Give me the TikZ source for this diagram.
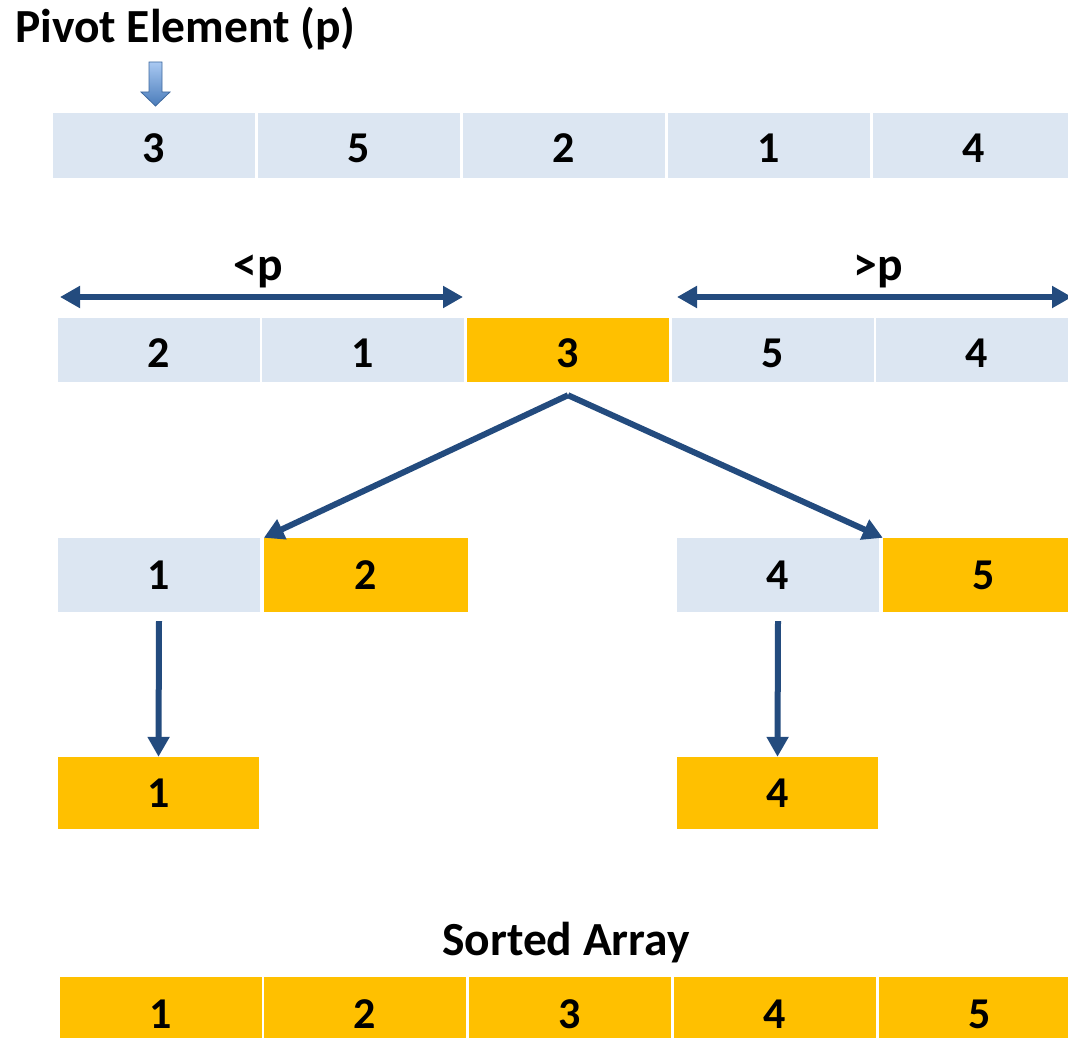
\documentclass[tikz,border=0pt]{standalone}
\usepackage{fontspec}
\setmainfont{Carlito}
\usetikzlibrary{arrows.meta}
\definecolor{cellblue}{HTML}{DCE6F2}
\definecolor{cellgold}{HTML}{FFC000}
\definecolor{arrowblue}{HTML}{234B7E}
\definecolor{pivtop}{HTML}{A9C9F2}
\definecolor{pivbot}{HTML}{4A7CBA}
\begin{document}
\begin{tikzpicture}[x=1pt,y=-1pt,
  cell/.style={rectangle,inner sep=0pt,minimum width=202pt,
    font=\fontsize{44}{48}\selectfont\bfseries},
  bluecell/.style={cell,fill=cellblue},
  goldcell/.style={cell,fill=cellgold},
  lowtext/.style={text height=35pt,text depth=0pt},
  label/.style={inner sep=0pt,font=\fontsize{47.5}{52}\selectfont\bfseries},
  flow/.style={draw=arrowblue,line width=6pt,
    -{Triangle[length=20pt,width=21pt]}},
  span/.style={draw=arrowblue,line width=6pt,
    {Triangle[length=20pt,width=21pt]}-{Triangle[length=20pt,width=21pt]}}]
\useasboundingbox (0,0) rectangle (1068,1038);
\clip (0,0) rectangle (1068,1038);

% title and pivot marker
\node[label,anchor=base west] (title) at (15,43) {Pivot Element (p)};
\shade[top color=pivtop,bottom color=pivbot,draw=pivbot!85!black,line width=0.8pt]
  (149,62) -- (162,62) -- (162,92) -- (170,92) -- (155.5,106)
  -- (141,92) -- (149,92) -- cycle;

% initial array
\begin{scope}[every node/.append style={minimum height=65pt,lowtext}]
\node[bluecell] (a1) at (154,145.5) {3};
\node[bluecell] (a2) at (359,145.5) {5};
\node[bluecell] (a3) at (564,145.5) {2};
\node[bluecell] (a4) at (769,145.5) {1};
\node[bluecell] (a5) at (974,145.5) {4};
\end{scope}

% partition around the pivot
\node[label,anchor=base] (lt) at (258,280) {<p};
\node[label,anchor=base] (gt) at (878,280) {>p};
\coordinate (ltL) at (60,297);
\coordinate (ltR) at (463,297);
\coordinate (gtL) at (677,297);
\coordinate (gtR) at (1072,297);
\draw[span] (ltL) -- (ltR);
\draw[span] (gtL) -- (gtR);

\begin{scope}[every node/.append style={minimum height=64pt,lowtext}]
\node[bluecell] (b1) at (158.5,350) {2};
\node[bluecell] (b2) at (363,350) {1};
\node[goldcell] (b3) at (568,350) {3};
\node[bluecell] (b4) at (772.5,350) {5};
\node[bluecell] (b5) at (977,350) {4};
\end{scope}

% sub-arrays
\begin{scope}[every node/.append style={minimum height=74pt}]
\node[bluecell] (c1) at (159,575) {1};
\node[goldcell,minimum width=204pt] (c2) at (366,575) {2};
\node[bluecell] (c3) at (778,575) {4};
\node[goldcell] (c4) at (984,575) {5};
\end{scope}

\coordinate (split) at ([yshift=-13pt]b3.south);
\draw[flow] (split) -- (c2.north west);
\draw[flow] (split) -- (c4.north west);

% single-element partitions
\begin{scope}[every node/.append style={minimum height=72pt}]
\node[goldcell,minimum width=201pt] (d1) at (158.5,793) {1};
\node[goldcell,minimum width=201pt] (d2) at (777.5,793) {4};
\end{scope}

\draw[flow] ([yshift=-9pt]c1.south) -- (d1.north);
\draw[flow] ([yshift=-9pt]c3.south) -- (d2.north);

% result
\node[label,anchor=base] (sorted) at (566,955) {Sorted Array};
\begin{scope}[every node/.append style={goldcell,minimum height=74pt}]
\node (e1) at (160.5,1014) {1};
\node (e2) at (365,1014) {2};
\node (e3) at (570,1014) {3};
\node (e4) at (775,1014) {4};
\node (e5) at (980,1014) {5};
\end{scope}
\end{tikzpicture}
\end{document}
